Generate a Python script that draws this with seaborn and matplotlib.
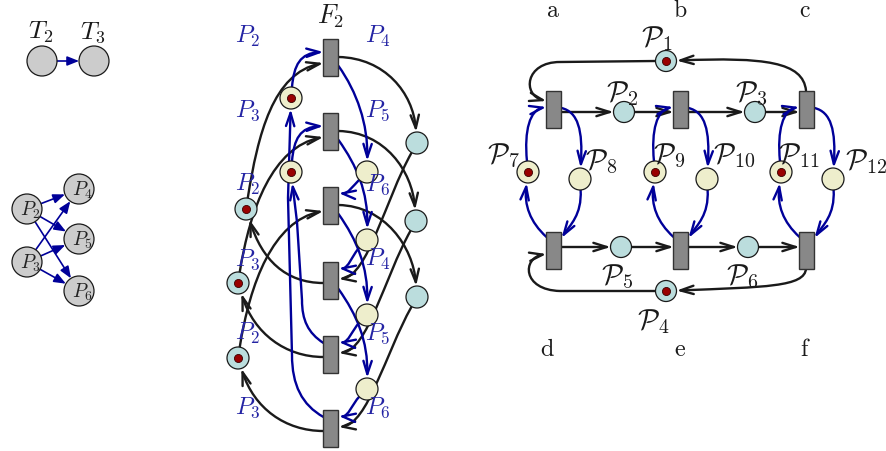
import matplotlib
matplotlib.use('Agg')
import numpy as np
import matplotlib.pyplot as plt
import seaborn as sns
from matplotlib.patches import Circle, Rectangle, FancyArrowPatch, ArrowStyle
from matplotlib.path import Path

# ---------------- data ----------------
# small graphs (left)
pair_nodes = ['T2', 'T3']
pair_labels = [r'$T_2$', r'$T_3$']
split_src = ['P2', 'P3']
split_dst = ['P4', 'P5', 'P6']
split_labels = {'P2': r'$P_2$', 'P3': r'$P_3$', 'P4': r'$P_4$',
                'P5': r'$P_5$', 'P6': r'$P_6$'}

# unfolded net F2 (middle)
f2_title = r'$F_2$'
f2_trans = ['t1', 't2', 't3', 't4', 't5', 't6']
f2_in_tags = [r'$P_2$', r'$P_3$', r'$P_2$', r'$P_3$', r'$P_2$', r'$P_3$']
f2_out_tags = [r'$P_4$', r'$P_5$', r'$P_6$', r'$P_4$', r'$P_5$', r'$P_6$']
f2_cyan_left = ['lc1', 'lc2', 'lc3']
f2_cyan_right = ['rc1', 'rc2', 'rc3']
f2_cream_left = ['ly1', 'ly2']
f2_cream_right = ['ry1', 'ry2', 'ry3', 'ry4']
f2_marked = ['ly1', 'ly2', 'lc1', 'lc2', 'lc3']

# grid net (right)
grid_top = ['a', 'b', 'c']
grid_bottom = ['d', 'e', 'f']
grid_cyan = ['P1', 'P2', 'P3', 'P4', 'P5', 'P6']
grid_cream = ['P7', 'P8', 'P9', 'P10', 'P11', 'P12']
grid_marked = ['P1', 'P4', 'P7', 'P9', 'P11']
top_chain = ['a', 'P2', 'b', 'P3', 'c']
bottom_chain = ['d', 'P5', 'e', 'P6', 'f']

# ---------------- layout ----------------
GRAY = '#CCCCCC'
CYAN = '#BBDDDD'
CREAM = '#EEEECC'
TRANS = '#888888'
TOKEN = '#990000'
BLUE = '#000099'
TAG = '#2424A4'

small_pos = {'T2': (42, 61), 'T3': (94, 61),
             'P2': (27, 209), 'P3': (27, 262),
             'P4': (79, 189), 'P5': (79, 239), 'P6': (79, 291)}
SR = 15

TX = 331
T_Y = [57, 131, 205, 280, 354, 428]
TW, TH = 15, 37
mid_pos = {'lc1': (246, 209), 'lc2': (238, 283), 'lc3': (238, 358),
           'rc1': (417, 143), 'rc2': (416, 221), 'rc3': (417, 297),
           'ly1': (291, 98), 'ly2': (291, 172),
           'ry1': (367, 172), 'ry2': (367, 240), 'ry3': (367, 315), 'ry4': (367, 389)}
MR = 11

GX = [554, 681, 807]
GY_TOP, GY_BOT = 109, 250
grid_pos = {'P1': (666, 61), 'P2': (624, 112), 'P3': (755, 112),
            'P4': (666, 291), 'P5': (621, 247), 'P6': (748, 247)}
for k, x in enumerate(GX):
    grid_pos[grid_cream[2 * k]] = (x - 26, 172)
    grid_pos[grid_cream[2 * k + 1]] = (x + 26, 179)
grid_trans = {n: (x, GY_TOP) for n, x in zip(grid_top, GX)}
grid_trans.update({n: (x, GY_BOT) for n, x in zip(grid_bottom, GX)})
GR = 10.5

sns.set_theme(style='white')
plt.rcParams['mathtext.fontset'] = 'cm'
plt.rcParams['font.family'] = ['DejaVu Serif']

fig = plt.figure(figsize=(8.86, 4.51), dpi=100)
ax = fig.add_axes([0, 0, 1, 1])

OPEN = ArrowStyle('->', head_length=9.5, head_width=3.0)
FILLED = ArrowStyle('-|>', head_length=7, head_width=2.8)
M, L, C = Path.MOVETO, Path.LINETO, Path.CURVE4


def boundary(c, r, toward):
    v = np.subtract(toward, c, dtype=float)
    v /= np.hypot(*v)
    return (c[0] + r * v[0], c[1] + r * v[1])


def edge(verts, codes, color='k', lw=1.7, style=OPEN):
    p = FancyArrowPatch(path=Path(verts, codes), arrowstyle=style,
                        mutation_scale=1, color=color, lw=lw, zorder=1)
    ax.add_patch(p)


def cubic(p0, c1, c2, p3, color='k'):
    edge([p0, c1, c2, p3], [M, C, C, C], color)


def place(c, r, fc):
    ax.add_patch(Circle(c, r, fc=fc, ec='#1a1a1a', lw=0.9, zorder=3))


def trans(c):
    ax.add_patch(Rectangle((c[0] - TW / 2, c[1] - TH / 2), TW, TH,
                           fc=TRANS, ec='#333333', lw=1.0, zorder=3))


def label(x, y, s, size=16, color='k'):
    ax.text(x, y, s, fontsize=size, color=color, ha='center',
            va='baseline', zorder=6)


# ---------------- small graphs ----------------
for n in small_pos:
    place(small_pos[n], SR, GRAY)
for n, s in zip(pair_nodes, pair_labels):
    label(small_pos[n][0] - 1, 39, s, 18.5)
a, b = small_pos['T2'], small_pos['T3']
edge([boundary(a, SR, b), boundary(b, SR, a)], [M, L], BLUE, 1.2, FILLED)
for s in split_src:
    for d in split_dst:
        a, b = small_pos[s], small_pos[d]
        edge([boundary(a, SR, b), boundary(b, SR, a)], [M, L], BLUE, 1.2, FILLED)
for n, s in split_labels.items():
    x, y = small_pos[n]
    label(x + 3.5, y + 7, s, 14, '#222222')

# ---------------- F2 net ----------------
for i in range(3):
    ty, ty2 = T_Y[i], T_Y[i + 3]
    rc, lc = mid_pos[f2_cyan_right[i]], mid_pos[f2_cyan_left[i]]
    # transition -> right cyan place
    c2 = (rc[0] - 4, rc[1] - 50)
    cubic((TX + 7.5, ty), (TX + 54, ty + 1), c2, boundary(rc, MR, c2))
    # right cyan place -> lower transition
    c1 = (rc[0] - 32, rc[1] + 57)
    cubic(boundary(rc, MR, c1), c1, (TX + 37, ty2 - 4), (TX + 7.5, ty2 - 1))
    # lower transition -> left cyan place
    c2 = (lc[0] + 16, lc[1] + 50)
    cubic((TX - 7.5, ty2 + 3), (TX - 46, ty2 + 3), c2, boundary(lc, MR, c2))
    # left cyan place -> upper transition
    c1 = (lc[0] + 12, lc[1] - 75)
    cubic(boundary(lc, MR, c1), c1, (TX - 58, ty + 16), (TX - 7.5, ty + 6))

for j, n in enumerate(f2_cream_left):
    ly, ty = mid_pos[n], T_Y[j]
    c1 = (ly[0] + 3, ly[1] - 33)
    cubic(boundary(ly, MR, c1), c1, (TX - 31, ty - 4), (TX - 7.5, ty - 5), BLUE)

for j, n in enumerate(f2_cream_right):
    ry, ty, ty2 = mid_pos[n], T_Y[j], T_Y[j + 2]
    c2 = (ry[0] + 1, ry[1] - 48)
    cubic((TX + 7.5, ty + 9), (TX + 26, ty + 35), c2, boundary(ry, MR, c2), BLUE)
    c1 = (ry[0] - 14, ry[1] + 14)
    cubic(boundary(ry, MR, c1), c1, (TX + 17, ty2 - 11), (TX + 7.5, ty2 - 12), BLUE)

# long feedback arcs t5 -> ly2, t6 -> ly1
ly1, ly2 = mid_pos['ly1'], mid_pos['ly2']
ty = T_Y[4]
edge([(TX - 7.5, ty - 11), (TX - 23, ty - 21), (TX - 29, ty - 34), (TX - 29, ty - 54),
      (TX - 34, ly2[1] + 50), boundary(ly2, MR, (TX - 34, ly2[1] + 50))],
     [M, C, C, C, L, L], BLUE)
ty = T_Y[5]
edge([(TX - 7.5, ty - 11), (TX - 29, ty - 23), (TX - 39, ty - 43), (TX - 39, ty - 73),
      (TX - 43, ly1[1] + 100), boundary(ly1, MR, (TX - 43, ly1[1] + 100))],
     [M, C, C, C, L, L], BLUE)

for n in f2_cyan_left + f2_cyan_right:
    place(mid_pos[n], MR, CYAN)
for n in f2_cream_left + f2_cream_right:
    place(mid_pos[n], MR, CREAM)
for ty in T_Y:
    trans((TX, ty))

label(TX, 24, f2_title, 19)
for ty, s_in, s_out in zip(T_Y, f2_in_tags, f2_out_tags):
    label(TX - 83, ty - 14, s_in, 17.5, TAG)
    label(TX + 47, ty - 14, s_out, 17.5, TAG)

# ---------------- grid net ----------------
for chain in (top_chain, bottom_chain):
    for s, d in zip(chain[:-1], chain[1:]):
        if s in grid_trans:
            pl = grid_pos[d]
            p0 = (grid_trans[s][0] + TW / 2, pl[1])
            edge([p0, boundary(pl, GR, p0)], [M, L])
        else:
            pl = grid_pos[s]
            p3 = (grid_trans[d][0] - TW / 2, pl[1])
            edge([boundary(pl, GR, p3), p3], [M, L])

p1, p4 = grid_pos['P1'], grid_pos['P4']
ca, cc = grid_trans['a'], grid_trans['c']
cd, cf = grid_trans['d'], grid_trans['f']
c2 = (cc[0] - 42, p1[1] - 4)
cubic((cc[0] - 1, cc[1] - TH / 2), (cc[0] - 4, p1[1] + 1), c2, boundary(p1, GR, c2))
edge([boundary(p1, GR, (ca[0], p1[1])), (ca[0] + 6, p1[1] + 1), (ca[0] - 29, p1[1] + 1),
      (ca[0] - 32, ca[1] - 14), (ca[0] - TW / 2, ca[1] - 8)], [M, L, C, C, C])
c2 = (cf[0] - 42, p4[1] - 4)
cubic((cf[0] - 1, cf[1] + TH / 2), (cf[0] - 2, p4[1] - 4), c2, boundary(p4, GR, c2))
edge([boundary(p4, GR, (cd[0], p4[1])), (cd[0] + 6, p4[1]), (cd[0] - 32, p4[1] - 1),
      (cd[0] - 32, cd[1] + 8), (cd[0] - TW / 2, cd[1] + 4)], [M, L, C, C, C])

for k, x in enumerate(GX):
    lp, rp = grid_pos[grid_cream[2 * k]], grid_pos[grid_cream[2 * k + 1]]
    c2 = (x + 29, GY_TOP + 21)
    cubic((x + 7.5, GY_TOP - 1), (x + 24, GY_TOP + 3), c2, boundary(rp, MR, c2), BLUE)
    c1 = (x + 28, GY_BOT - 35)
    cubic(boundary(rp, MR, c1), c1, (x + 16, GY_BOT - 25), (x + 7.5, GY_BOT - 12), BLUE)
    c2 = (x - 30, GY_BOT - 45)
    cubic((x - 7.5, GY_BOT - 13), (x - 24, GY_BOT - 28), c2, boundary(lp, MR, c2), BLUE)
    c1 = (x - 30, GY_TOP + 21)
    cubic(boundary(lp, MR, c1), c1, (x - 24, GY_TOP + 1), (x - 7.5, GY_TOP - 2), BLUE)

for n in grid_cyan:
    place(grid_pos[n], GR, CYAN)
for n in grid_cream:
    place(grid_pos[n], MR, CREAM)
for n in grid_trans:
    trans(grid_trans[n])

for n, x in zip(grid_top, [553, 680, 805]):
    label(x, 17, r'$\mathrm{%s}$' % n, 17)
for n, x in zip(grid_bottom, [547, 680, 805]):
    label(x, 356, r'$\mathrm{%s}$' % n, 17.5)

grid_label_at = {'P1': (657, 46), 'P2': (622, 101), 'P3': (751, 101),
                 'P7': (503, 163), 'P8': (601, 169), 'P9': (669, 163),
                 'P10': (734, 163), 'P11': (799, 163), 'P12': (866, 169),
                 'P5': (617, 284), 'P6': (742, 284), 'P4': (653, 329)}
for n, (x, y) in grid_label_at.items():
    label(x, y, r'$\mathcal{P}_{%s}$' % n[1:], 20.5)

# ---------------- tokens ----------------
tok = [mid_pos[n] for n in f2_marked] + [grid_pos[n] for n in grid_marked]
sns.scatterplot(x=[p[0] for p in tok], y=[p[1] for p in tok], s=34,
                color=TOKEN, edgecolor='#3a0000', linewidth=0.6,
                zorder=5, legend=False, ax=ax)

ax.set_xlim(0, 886)
ax.set_ylim(451, 0)
ax.axis('off')
fig.savefig('out.png', dpi=100)
